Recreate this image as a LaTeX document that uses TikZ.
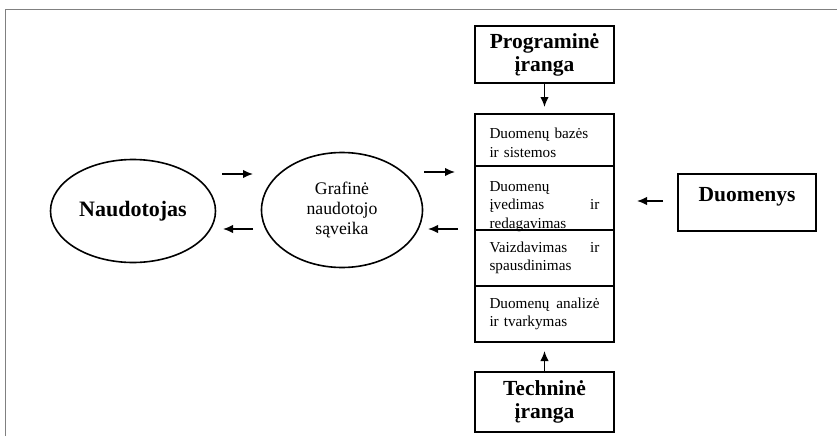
\documentclass[tikz,border=0pt]{standalone}
\usepackage{fontspec}
\setmainfont{Liberation Serif}
\usetikzlibrary{positioning,arrows.meta,shapes.geometric}

\begin{document}
\begin{tikzpicture}[x=1pt,y=-1pt,
  title/.style={draw,line width=1.6pt,minimum width=139pt,outer sep=0pt,inner sep=0pt,align=center,font=\fontsize{21.5}{23}\selectfont\bfseries},
  cell/.style={draw,line width=1.6pt,minimum width=139pt,text width=110pt,outer sep=0pt,inner sep=0pt,align=left,font=\fontsize{15.2}{18.5}\selectfont},
  oval/.style={draw,ellipse,line width=1.6pt,inner sep=0pt,align=center},
  arr/.style={-{Latex[length=10pt,width=8.5pt]},line width=1.5pt}]
			\useasboundingbox (0,0) rectangle (837,436);
			%frame
			\draw[gray,line width=1pt] (5,436) -- (5,10) -- (837,10);

			%left nodes
			\node [oval,minimum width=165pt,minimum height=103pt,font=\fontsize{22}{24}\selectfont\bfseries] (user) at (133,211) {Naudotojas};
			\node [oval,minimum width=161pt,minimum height=115pt,font=\fontsize{17.7}{20}\selectfont] (gui) at (342,210) {Grafinė\\naudotojo\\sąveika};

			%middle stack
			\node [cell,minimum height=52pt,text depth=13pt] (c1) at (544.5,140) {Duomenų bazės\\ir sistemos};
			\node [cell,minimum height=64pt,text depth=23pt,below=0pt of c1] (c2) {Duomenų\\įvedimas\hfill ir\\redagavimas};
			\node [cell,minimum height=56pt,below=0pt of c2] (c3) {Vaizdavimas\hfill ir\\spausdinimas};
			\node [cell,minimum height=56pt,below=0pt of c3] (c4) {Duomenų\hfill analizė\\ir tvarkymas};

			%outer boxes
			\node [title,minimum height=57pt] (soft) at (544.5,54.5) {Programinė\\įranga};
			\node [title,minimum height=60pt] (hard) at (544.5,402) {Techninė\\įranga};
			\node [title,minimum width=138pt,minimum height=57pt,text depth=17pt] (data) at (747,202.5) {Duomenys};

			%free arrow ends
			\coordinate (u1) at (222,174);
			\coordinate (g1) at (253,174);
			\coordinate (g2) at (253,229);
			\coordinate (u2) at (223,229);
			\coordinate (g3) at (424,172);
			\coordinate (s1) at (455,172);
			\coordinate (s2) at (458,229);
			\coordinate (g4) at (428,229);
			\coordinate (d1) at (663,201);
			\coordinate (s3) at (637,201);

			%edges
			\draw[arr,shorten >=7pt] (soft) -- (c1);
			\draw[arr,shorten >=9pt] (hard) -- (c4);
			\draw[arr] (u1) -- (g1);
			\draw[arr] (g2) -- (u2);
			\draw[arr] (g3) -- (s1);
			\draw[arr] (s2) -- (g4);
			\draw[arr] (d1) -- (s3);
		\end{tikzpicture}
\end{document}
